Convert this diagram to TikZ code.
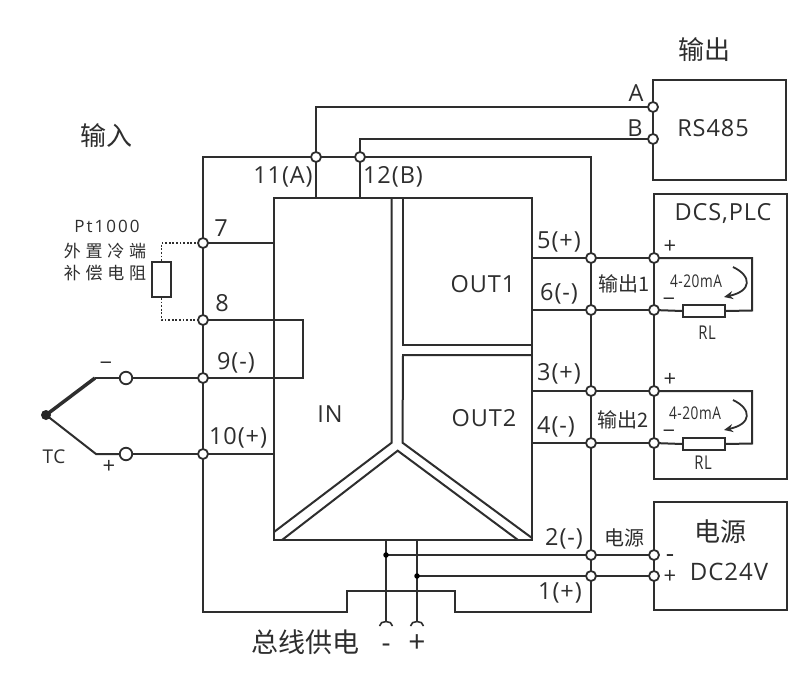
\documentclass[tikz,border=0pt]{standalone}
\usepackage{fontspec}
\usepackage{graphicx}
\usetikzlibrary{backgrounds,arrows.meta}
\setmainfont[LetterSpace=4]{Open Sans}
\newfontfamily\cjk{Noto Sans CJK SC}
\newfontfamily\cjkw[LetterSpace=28]{Noto Sans CJK SC}
\newcommand{\fsz}[1]{\fontsize{#1}{#1}\selectfont}
\newcommand{\cond}[1]{\scalebox{.78}[1]{#1}}
\definecolor{ink}{HTML}{2E2E2E}
\tikzset{
  wire/.style={draw=ink,line width=2pt,line join=miter},
  thinw/.style={draw=ink,line width=1.6pt},
  dotw/.style={draw=ink,line width=1.7pt,dash pattern=on 1.8pt off 1.8pt},
  term/.style={circle,draw=ink,fill=white,line width=1.8pt,minimum size=10pt,inner sep=0pt},
  bigterm/.style={term,minimum size=12.5pt},
  junc/.style={circle,fill=black,minimum size=5.5pt,inner sep=0pt},
  lab/.style={inner sep=0pt,text=ink,font=\fsz{23.5}},
  labc/.style={inner sep=0pt,text=ink,font=\fsz{20}\cjk},
  sym/.style={inner sep=0pt,text=ink,font=\fsz{22}},
  res/.style={rectangle,draw=ink,fill=white,line width=1.8pt,inner sep=0pt},
}
\begin{document}
\begin{tikzpicture}[x=1pt,y=-1pt]
\useasboundingbox (0,0) rectangle (800,674);
\begin{scope}[on background layer]
\fill[white] (0,0) rectangle (800,674);
\end{scope}
% terminals
\node[term] (t11) at (316,157) {};
\node[term] (t12) at (360,157) {};
\node[term] (rsa) at (653,107) {};
\node[term] (rsb) at (653,139) {};
\node[term] (t7) at (203,243) {};
\node[term] (t8) at (203,320) {};
\node[term] (t9) at (203,378) {};
\node[term] (t10) at (203,454) {};
\node[bigterm] (tcm) at (126,378) {};
\node[bigterm] (tcp) at (126,454) {};
\node[circle,fill=black!85,minimum size=10pt,inner sep=0pt] (tc) at (46,415) {};
\coordinate (tcmb) at (95,378);
\coordinate (tcpb) at (96,454);
\node[term] (t5) at (591,258) {};
\node[term] (t6) at (591,310) {};
\node[term] (t3) at (591,391) {};
\node[term] (t4) at (591,443) {};
\node[term] (d5) at (654,258) {};
\node[term] (d6) at (654,310) {};
\node[term] (d3) at (654,391) {};
\node[term] (d4) at (654,443) {};
\node[term] (t2) at (591,555) {};
\node[term] (t1) at (591,576) {};
\node[term] (pm) at (654,555) {};
\node[term] (pp) at (654,576) {};
\node[junc] (jm) at (386,555) {};
\node[junc] (jp) at (417,576) {};
\node[res,minimum width=19pt,minimum height=35pt] (rpt) at (161.5,279.5) {};
\node[res,minimum width=42pt,minimum height=12pt] (rl1) at (704,311) {};
\node[res,minimum width=42pt,minimum height=12pt] (rl2) at (704,444) {};
\begin{scope}[on background layer]
% boxes
\draw[wire] (653,80) rectangle (786,180);
\draw[wire] (654,194) rectangle (787,479);
\draw[wire] (654,502) rectangle (787,610);
% module
\draw[wire] (274,198) rectangle (532,540);
\draw[wire] (403,198) -- (403,345) -- (532,345);
\draw[wire] (532,355) -- (403,355) -- (402.5,442.7) -- (532,538);
\draw[wire] (391.7,198) -- (391.7,442.7) -- (274,532);
\draw[wire] (282,540) -- (397.7,450.7) -- (518,540);
% outer supply bus
\draw[wire] (t11.center) -- (203,157) -- (203,612) -- (347,612) -- (347,591) -- (455,591) -- (455,612) -- (591,612) -- (591,157) -- (t12.center) -- (t11.center);
% RS485
\draw[wire] (t11.center) -- (316,198);
\draw[wire] (t12.center) -- (360,198);
\draw[wire] (t11.center) -- (316,107) -- (rsa.center);
\draw[wire] (t12.center) -- (360,139) -- (rsb.center);
% input
\draw[wire] (t7.center) -- (274,243);
\draw[wire] (t8.center) -- (303,320) -- (303,378) -- (t9.center);
\draw[wire] (t10.center) -- (274,454);
\draw[wire] (tcm.center) -- (t9.center);
\draw[wire] (tcp.center) -- (t10.center);
\draw[wire] (tcp.center) -- (tcpb) -- (tc.center);
\draw[draw=ink,line width=2pt] (tcm.center) -- (tcmb);
\draw[draw=ink,line width=3.5pt] (tcmb) -- (tc.center);
\draw[dotw] (t7.center) -- (161.5,243) -- (rpt.north);
\draw[dotw] (rpt.south) -- (161.5,320) -- (t8.center);
% outputs
\draw[wire] (532,258) -- (t5.center) -- (d5.center);
\draw[wire] (532,310) -- (t6.center) -- (d6.center);
\draw[wire] (532,391) -- (t3.center) -- (d3.center);
\draw[wire] (532,443) -- (t4.center) -- (d4.center);
\draw[wire] (d5.center) -- (752,258) -- (752,310.5) -- (rl1.east);
\draw[wire] (d6.center) -- (rl1.west);
\draw[wire] (d3.center) -- (752,391) -- (752,443.5) -- (rl2.east);
\draw[wire] (d4.center) -- (rl2.west);
% power
\draw[wire] (386,540) -- (jm.center) -- (386,621);
\draw[wire] (417,540) -- (jp.center) -- (417,621);
\draw[wire] (jm.center) -- (t2.center) -- (pm.center);
\draw[wire] (jp.center) -- (t1.center) -- (pp.center);
\draw[thinw] (379.5,626) .. controls (380,620) and (392,620) .. (392.5,626);
\draw[thinw] (410.5,626) .. controls (411,620) and (423,620) .. (423.5,626);
% current arrows
\draw[draw=ink,line width=1.8pt,-{Stealth[length=9pt,width=8pt]}] (733,267) .. controls (752,276) and (752,291) .. (724,297);
\draw[draw=ink,line width=1.8pt,-{Stealth[length=9pt,width=8pt]}] (733,400) .. controls (752,409) and (752,424) .. (724,430);
\end{scope}
% labels
\node[labc,font=\fsz{26}\cjk] (lout) at (704,50) {输出};
\node[labc,font=\fsz{26}\cjk] (lin) at (106,136) {输入};
\node[lab] (la) at (636,93) {A};
\node[lab] (lb) at (635,128) {B};
\node[lab] (l485) at (713,128) {RS485};
\node[lab] (l11) at (283,177) {11(A)};
\node[lab] (l12) at (393,177) {12(B)};
\node[lab] (l7) at (221,228) {7};
\node[lab] (l8) at (222,303) {8};
\node[lab] (l9) at (236,363) {9(-)};
\node[lab] (l10) at (238,438) {10(+)};
\node[lab,font=\fsz{17}] (lpt) at (107,226) {\addfontfeatures{LetterSpace=12}Pt1000};
\node[labc,font=\fsz{17}\cjkw] (lw1) at (105,251) {外置冷端};
\node[labc,font=\fsz{17}\cjkw] (lw2) at (105,273) {补偿电阻};
\node[lab,font=\fsz{19}] (ltc) at (54,457) {TC};
\node[sym] (ltm) at (106,366) {−};
\node[sym] (ltp) at (109,467) {+};
\node[lab] (lin2) at (330,414) {IN};
\node[lab] (lo1) at (483,284) {OUT1};
\node[lab] (lo2) at (484,418) {OUT2};
\node[lab] (l5) at (559,242) {5(+)};
\node[lab] (l6) at (559,294) {6(-)};
\node[lab] (l3) at (559,374) {3(+)};
\node[lab] (l4) at (556,427) {4(-)};
\node[labc] (lo1c) at (624,284) {输出1};
\node[labc] (lo2c) at (623,420) {输出2};
\node[lab] (ldcs) at (723,214) {DCS,PLC};
\node[sym] (p1) at (670,247) {+};
\node[sym] (m1) at (669,302) {−};
\node[sym] (p2) at (670,380) {+};
\node[sym] (m2) at (669,434) {−};
\node[lab,font=\fsz{17.5}] (c1) at (696,281) {\cond{4-20mA}};
\node[lab,font=\fsz{17.5}] (c2) at (695,413) {\cond{4-20mA}};
\node[lab,font=\fsz{19}] (r1) at (707,333) {\cond{RL}};
\node[lab,font=\fsz{19}] (r2) at (703,463) {\cond{RL}};
\node[lab] (l2) at (564,539) {2(-)};
\node[lab] (l1) at (560,593) {1(+)};
\node[labc] (lps) at (624,538) {电源};
\node[sym,font=\fsz{26}] (pmm) at (670,559) {-};
\node[sym,font=\fsz{22}] (ppp) at (670,577) {+};
\node[labc,font=\fsz{26}\cjk] (lpw) at (720,532) {电源};
\node[lab,font=\fsz{24}] (l24) at (729,572) {DC24V};
\node[labc,font=\fsz{27}\cjk] (lbus) at (305,642) {总线供电};
\node[sym,font=\fsz{28}] (bm) at (386,648) {-};
\node[sym,font=\fsz{30}] (bp) at (417,644) {+};
\end{tikzpicture}
\end{document}
